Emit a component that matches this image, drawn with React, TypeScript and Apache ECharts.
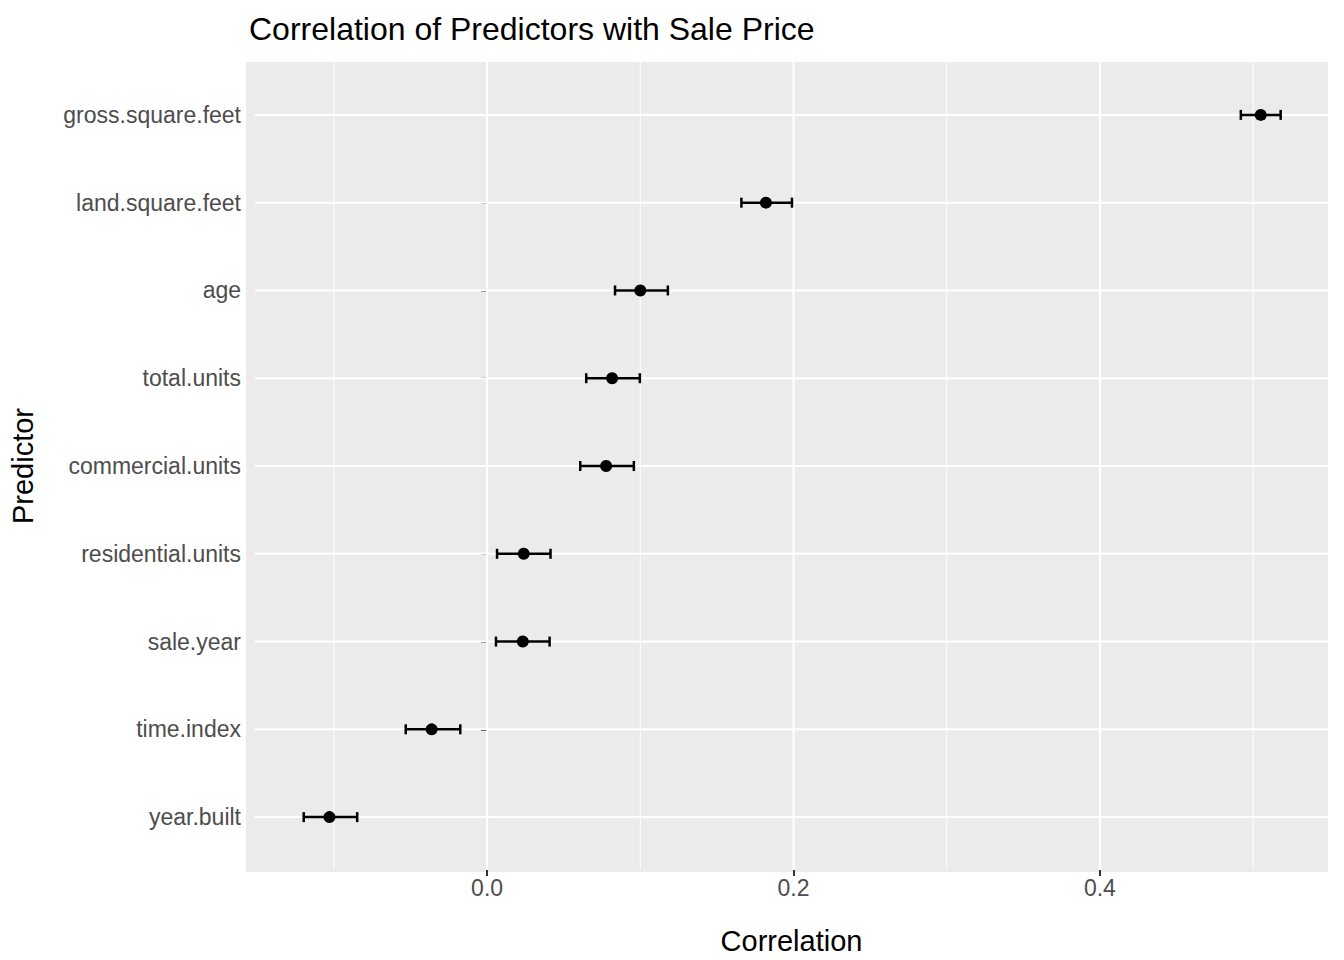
import React, { useEffect, useRef } from 'react';
import * as echarts from 'echarts';

const predictors = ['gross.square.feet', 'land.square.feet', 'age', 'total.units', 'commercial.units', 'residential.units', 'sale.year', 'time.index', 'year.built'];
const estimate = [0.505, 0.182, 0.100, 0.0816, 0.0777, 0.0239, 0.0233, -0.0362, -0.1029];
const lower = [0.492, 0.166, 0.0835, 0.0647, 0.0608, 0.0065, 0.0058, -0.0531, -0.1197];
const upper = [0.518, 0.199, 0.118, 0.0997, 0.0958, 0.0414, 0.0408, -0.0175, -0.0848];
const majorX = [0, 0.2, 0.4];
const minorX = [-0.1, 0.1, 0.3, 0.5];

const PAD = 9; // extra panel space above/below category band

const App: React.FC = () => {
    const chartRef = useRef<HTMLDivElement>(null);

    useEffect(() => {
        if (!chartRef.current) return;
        const chart = echarts.init(chartRef.current, undefined, { renderer: 'svg' });
        const font = 'Liberation Sans, Arial, sans-serif';
        const tick = { show: true, length: 6, lineStyle: { color: '#333', width: 2 } };

        const option: echarts.EChartsOption = {
            animation: false,
            backgroundColor: '#fff',
            title: { text: 'Correlation of Predictors with Sale Price', left: 244, top: 8, textStyle: { fontFamily: font, fontSize: 32, fontWeight: 'normal', color: '#000' } },
            graphic: [{ type: 'rect', shape: { x: 246, y: 62, width: 1082, height: 810 }, style: { fill: '#ebebeb' }, z: -10 }],
            grid: { left: 246, right: 16, top: 62 + PAD, bottom: 88 + PAD },
            xAxis: {
                type: 'value', min: -0.1515, max: 0.5489, offset: PAD,
                name: 'Correlation', nameLocation: 'middle', nameGap: 56,
                nameTextStyle: { fontFamily: font, fontSize: 29, color: '#000' },
                axisLine: { show: true, lineStyle: { color: 'rgba(0,0,0,0)' } },
                axisTick: { ...tick, customValues: majorX },
                axisLabel: { show: true, fontFamily: font, fontSize: 23, color: '#4d4d4d', margin: 6, customValues: majorX, formatter: (v: number) => v.toFixed(1) },
                splitLine: { show: false }
            },
            yAxis: {
                type: 'category', data: predictors, inverse: true,
                name: 'Predictor', nameLocation: 'middle', nameGap: 218, nameRotate: 90,
                nameTextStyle: { fontFamily: font, fontSize: 29, color: '#000' },
                axisLine: { show: true, lineStyle: { color: 'rgba(0,0,0,0)' } },
                axisTick: { ...tick, alignWithLabel: true },
                axisLabel: { fontFamily: font, fontSize: 23, color: '#4d4d4d', margin: 14 },
                splitLine: { show: false }
            },
            series: [
                {
                    type: 'custom', data: [0], z: 1, silent: true,
                    renderItem: (params: any, api: any) => {
                        const cs = params.coordSys;
                        const top = cs.y - PAD, bot = cs.y + cs.height + PAD;
                        const children: any[] = [];
                        minorX.forEach(v => {
                            const x = api.coord([v, 0])[0];
                            children.push({ type: 'line', shape: { x1: x, y1: top, x2: x, y2: bot }, style: { stroke: '#fff', lineWidth: 1 } });
                        });
                        majorX.forEach(v => {
                            const x = api.coord([v, 0])[0];
                            children.push({ type: 'line', shape: { x1: x, y1: top, x2: x, y2: bot }, style: { stroke: '#fff', lineWidth: 2 } });
                        });
                        predictors.forEach((p, i) => {
                            const y = api.coord([0, i])[1];
                            children.push({ type: 'line', shape: { x1: cs.x, y1: y, x2: cs.x + cs.width, y2: y }, style: { stroke: '#fff', lineWidth: 2 } });
                        });
                        return { type: 'group', children };
                    }
                },
                {
                    type: 'custom', z: 2,
                    data: predictors.map((p, i) => [lower[i], upper[i], i]),
                    renderItem: (params: any, api: any) => {
                        const a = api.coord([api.value(0), api.value(2)]);
                        const b = api.coord([api.value(1), api.value(2)]);
                        const h = 5;
                        const st = { stroke: '#000', lineWidth: 2.5 };
                        return {
                            type: 'group', children: [
                                { type: 'line', shape: { x1: a[0], y1: a[1], x2: b[0], y2: b[1] }, style: st },
                                { type: 'line', shape: { x1: a[0], y1: a[1] - h, x2: a[0], y2: a[1] + h }, style: st },
                                { type: 'line', shape: { x1: b[0], y1: b[1] - h, x2: b[0], y2: b[1] + h }, style: st }
                            ]
                        };
                    }
                },
                {
                    type: 'scatter', z: 3, symbolSize: 12,
                    data: predictors.map((p, i) => [estimate[i], i]),
                    itemStyle: { color: '#000', opacity: 1 }
                }
            ]
        };
        chart.setOption(option);
        return () => chart.dispose();
    }, []);

    return <div ref={chartRef} style={{ width: 1344, height: 960, margin: -8 }} />;
};

export default App;
